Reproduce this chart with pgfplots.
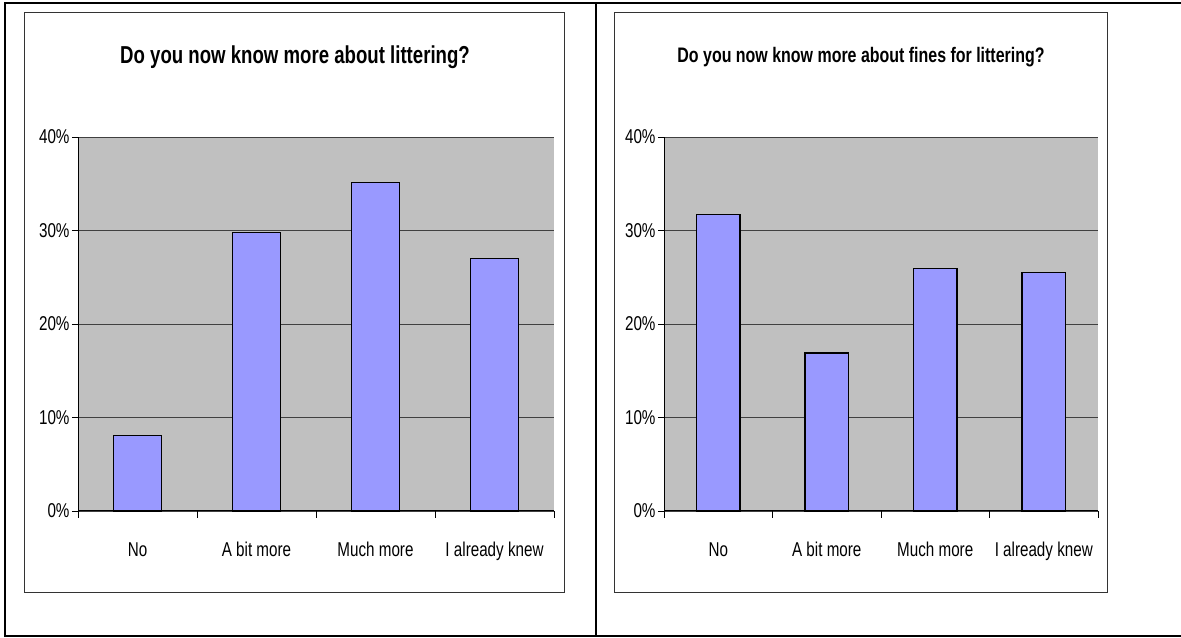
\documentclass[border=0pt]{standalone}
\usepackage{fontspec}
\setmainfont{Liberation Sans}[FakeStretch=0.76]
\usepackage{pgfplots}
\usepackage{pgfplotstable}
\pgfplotsset{compat=1.18}

\definecolor{plotgray}{HTML}{C0C0C0}
\definecolor{barblue}{HTML}{9999FF}

\newcommand\labelfont{\fontsize{20bp}{24bp}\selectfont}

% Share of answers (%) for each question
\pgfplotstableread{
x val
0 8.1
1 29.8
2 35.1
3 27.0
}\littering

\pgfplotstableread{
x val
0 31.7
1 16.9
2 25.9
3 25.5
}\fines

\pgfplotsset{
  surveybar/.style={
    scale only axis,
    height=374bp,
    xmin=-0.5, xmax=3.5, ymin=0, ymax=40,
    axis background/.style={fill=plotgray},
    axis x line*=bottom, axis y line*=left,
    axis line style={-, black, line width=1bp},
    xtick={0,1,2,3},
    xticklabels={No,A bit more,Much more,I already knew},
    minor xtick={-0.5,0.5,1.5,2.5,3.5},
    ytick={0,10,20,30,40},
    yticklabels={0\%,10\%,20\%,30\%,40\%},
    ymajorgrids,
    major grid style={line width=0.8bp, black!75},
    tick align=outside,
    major tick length=6bp,
    minor tick length=7bp,
    major x tick style={draw=none},
    tick style={black, line width=0.8bp},
    ticklabel style={font=\labelfont},
    xticklabel style={anchor=base, yshift=-40bp},
    yticklabel style={xshift=1bp},
    /pgf/number format/assume math mode=true,
    clip=false,
  },
  surveybars/.style={
    ybar, fill=barblue, draw=black, line width=1.2bp,
  },
}

\begin{document}
\begin{tikzpicture}
  % table rules around the two charts
  \draw[line width=2bp] (4bp,635bp) -- (1181bp,635bp);
  \draw[line width=2bp] (4bp,2bp) -- (1181bp,2bp);
  \draw[line width=2bp] (5bp,635bp) -- (5bp,2bp);
  \draw[line width=2bp] (595.5bp,635bp) -- (595.5bp,2bp);

  % chart frames
  \draw[line width=1bp, black!80] (24bp,45bp) rectangle (564bp,625bp);
  \draw[line width=1bp, black!80] (614bp,45bp) rectangle (1107bp,625bp);

  % titles
  \node[font=\fontsize{24.5bp}{28bp}\selectfont\bfseries] at (295bp,581bp)
    {Do you now know more about littering?};
  \node[font=\fontsize{21bp}{25bp}\selectfont\bfseries] at (861bp,581bp)
    {Do you now know more about fines for littering?};

  \begin{axis}[surveybar, width=476bp, at={(78bp,127bp)}, anchor=south west]
    \addplot[surveybars, bar width=47.6bp] table[x=x, y=val] {\littering};
  \end{axis}

  \begin{axis}[surveybar, width=434bp, at={(664bp,127bp)}, anchor=south west]
    \addplot[surveybars, bar width=43.4bp] table[x=x, y=val] {\fines};
  \end{axis}

  \pgfresetboundingbox
  \path (0,0) rectangle (1181bp,638bp);
\end{tikzpicture}
\end{document}
